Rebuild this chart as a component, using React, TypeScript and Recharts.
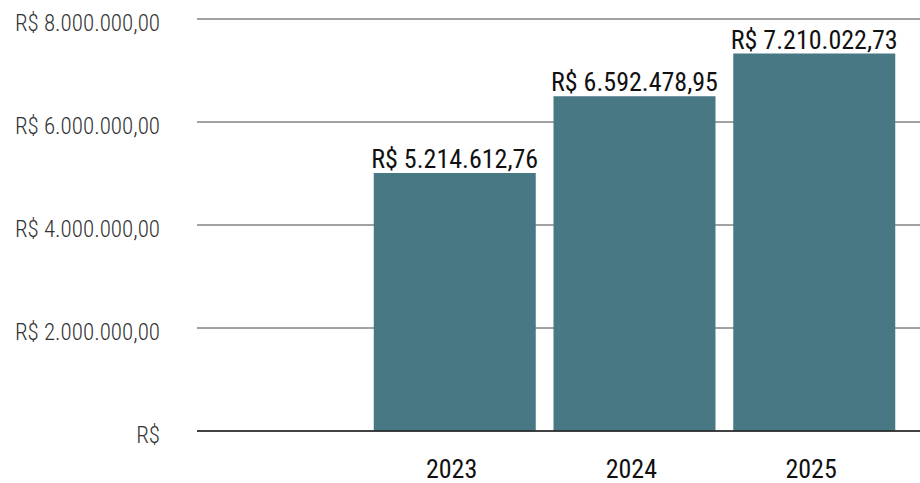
import React from 'react'
import { BarChart, Bar, XAxis, YAxis, CartesianGrid, LabelList } from 'recharts'

// categorias (a primeira fica vazia, como no original)
const anos = ['', '2023', '2024', '2025']
// altura das barras
const valores = [null, 5010000, 6500000, 7330000]
// rótulos exibidos acima das barras
const rotulos = ['', 'R$ 5.214.612,76', 'R$ 6.592.478,95', 'R$ 7.210.022,73']
const ticksY = [0, 2000000, 4000000, 6000000, 8000000]

const FONTE = "'Roboto Condensed', 'Liberation Sans Narrow', 'DejaVu Sans Condensed', Roboto, sans-serif"

function formatarReal(v: number) {
  if (v === 0) return 'R$'
  const [inteiro, dec] = v.toFixed(2).split('.')
  const milhar = inteiro.replace(/\B(?=(\d{3})+(?!\d))/g, '.')
  return `R$ ${milhar},${dec}`
}

const data = anos.map((ano, i) => ({
  ano,
  valor: valores[i],
  rotulo: rotulos[i],
}))

export default function App() {
  return (
    <div style={{ position: 'absolute', left: 0, top: 0, width: 920, height: 483, background: '#fff' }}>
      <BarChart width={920} height={483} data={data} margin={{ top: 19, right: 0, left: 0, bottom: 0 }}>
        <CartesianGrid vertical={false} stroke="#444" />
        <XAxis
          dataKey="ano"
          height={52}
          padding={{ left: -12, right: 16 }}
          tickLine={false}
          axisLine={{ stroke: '#222', strokeWidth: 1.5 }}
          tickMargin={23}
          tick={{ fontSize: 26, fill: '#111', fontFamily: FONTE, dx: -3 }}
        />
        <YAxis
          width={197}
          domain={[0, 8000000]}
          ticks={ticksY}
          tickFormatter={formatarReal}
          tickLine={false}
          axisLine={false}
          tickMargin={31}
          tick={{ fontSize: 23, fill: '#333', fontFamily: FONTE, fontWeight: 300, dy: 4 }}
        />
        <Bar dataKey="valor" fill="#497885" barSize={162} isAnimationActive={false}>
          <LabelList
            dataKey="rotulo"
            position="top"
            offset={5}
            style={{ fontSize: 26, fill: '#111', fontFamily: FONTE }}
          />
        </Bar>
      </BarChart>
    </div>
  )
}
